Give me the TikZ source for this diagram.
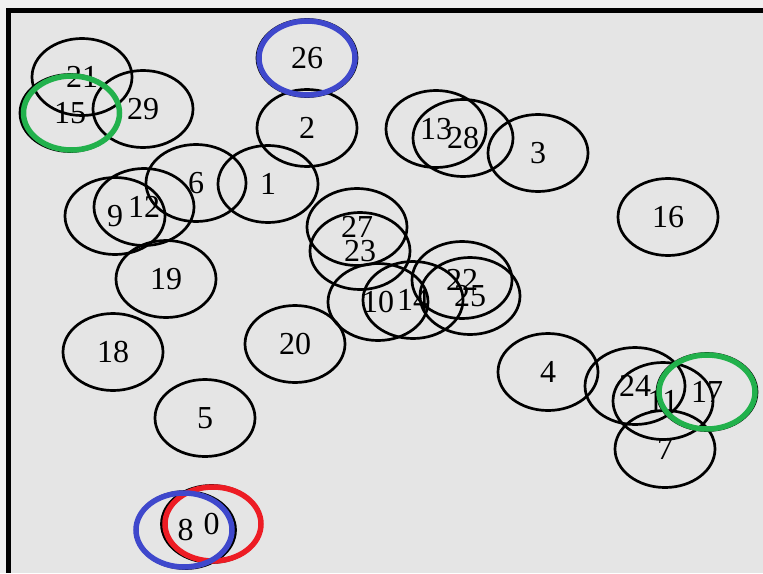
\documentclass[tikz,border=0pt]{standalone}
\usepackage{fontspec}
\setmainfont{Liberation Serif}
\usetikzlibrary{shapes.geometric}
\definecolor{pagebg}{HTML}{E5E5E5}
\definecolor{outerbg}{HTML}{F0F0F0}
\definecolor{hlblue}{HTML}{3F48CC}
\definecolor{hlred}{HTML}{ED1C24}
\definecolor{hlgreen}{HTML}{22B14C}
\tikzset{
  vtx/.style={ellipse, draw=black, line width=2.7pt, minimum width=100pt,
    minimum height=77pt, inner sep=0pt, font=\fontsize{32}{32}\selectfont},
  ring/.style={ellipse, line width=5.5pt, minimum width=96pt,
    minimum height=74pt, inner sep=0pt},
}
\begin{document}
\begin{tikzpicture}[x=1pt, y=-1pt]
  % page, outer strip and frame
  \fill[outerbg] (0,0) rectangle (763,573);
  \useasboundingbox (0,0) rectangle (763,573);
  \fill[pagebg] (6,8) rectangle (763,573);
  \fill[black] (6,8) rectangle (763,13);
  \fill[black] (6,8) rectangle (11,573);

  % vertices
  \node[vtx] (n21) at (82,77)   {21};
  \node[vtx] (n15) at (70,113)  {15};
  \node[vtx] (n29) at (143,109) {29};
  \node[vtx] (n26) at (307,58)  {26};
  \node[vtx] (n2)  at (307,128) {2};
  \node[vtx] (n13) at (436,129) {13};
  \node[vtx] (n28) at (463,138) {28};
  \node[vtx] (n3)  at (538,153) {3};
  \node[vtx] (n6)  at (196,183) {6};
  \node[vtx] (n1)  at (268,184) {1};
  \node[vtx] (n9)  at (115,216) {9};
  \node[vtx] (n12) at (144,207) {12};
  \node[vtx] (n16) at (668,217) {16};
  \node[vtx] (n27) at (357,227) {27};
  \node[vtx] (n23) at (360,251) {23};
  \node[vtx] (n19) at (166,279) {19};
  \node[vtx] (n10) at (378,302) {10};
  \node[vtx] (n14) at (413,300) {14};
  \node[vtx] (n22) at (462,280) {22};
  \node[vtx] (n25) at (470,296) {25};
  \node[vtx] (n20) at (295,344) {20};
  \node[vtx] (n18) at (113,352) {18};
  \node[vtx] (n4)  at (548,372) {4};
  \node[vtx] (n24) at (635,386) {24};
  \node[vtx] (n11) at (663,401) {11};
  \node[vtx] (n17) at (707,392) {17};
  \node[vtx] (n5)  at (205,418) {5};
  \node[vtx] (n7)  at (665,449) {7};
  \node[vtx] (n8)  at (185.5,530) {8};
  \node[vtx] (n0)  at (211.5,524) {0};

  % highlighted vertices
  \node[ring, draw=hlblue] (h26) at (n26) {};
  \node[ring, draw=hlgreen, xshift=1.5pt] (h15) at (n15) {};
  \node[ring, draw=hlgreen] (h17) at (n17) {};
  \node[ring, draw=hlred, xshift=1.5pt] (h0) at (n0) {};
  \node[ring, draw=hlblue, xshift=-1.5pt] (h8) at (n8) {};
\end{tikzpicture}
\end{document}
